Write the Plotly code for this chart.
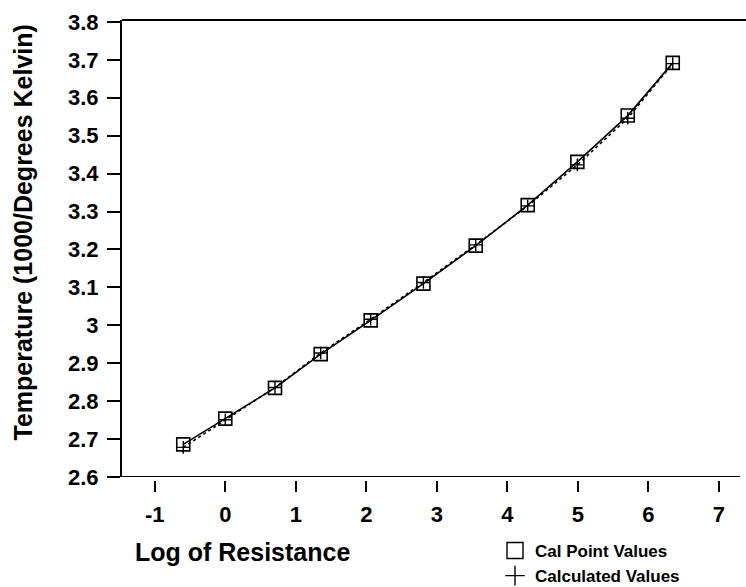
import plotly.graph_objects as go

log_resistance = [-0.596, 0.0, 0.705, 1.353, 2.062, 2.81, 3.552, 4.289, 4.993, 5.708, 6.346]
cal_point_values = [2.686, 2.754, 2.835, 2.924, 3.013, 3.110, 3.210, 3.317, 3.431, 3.553, 3.692]
calculated_values = [2.678, 2.751, 2.836, 2.927, 3.016, 3.113, 3.212, 3.315, 3.423, 3.546, 3.690]

x_ticks = [-1, 0, 1, 2, 3, 4, 5, 6, 7]
y_ticks = [2.6, 2.7, 2.8, 2.9, 3.0, 3.1, 3.2, 3.3, 3.4, 3.5, 3.6, 3.7, 3.8]
y_tick_labels = ["2.6", "2.7", "2.8", "2.9", "3", "3.1", "3.2", "3.3", "3.4", "3.5", "3.6", "3.7", "3.8"]

FONT = "Liberation Sans"
W, H = 746, 587
ml, mt, mr, mb = 122, 20, 6, 107
plot_h = H - mt - mb

fig = go.Figure()
fig.add_trace(go.Scatter(x=log_resistance, y=cal_point_values, mode="lines+markers",
                         line=dict(color="black", width=1.6),
                         marker=dict(symbol="square-open", size=13, color="black", line=dict(width=1.6)),
                         showlegend=False))
fig.add_trace(go.Scatter(x=log_resistance, y=calculated_values, mode="lines+markers",
                         line=dict(color="black", width=1.6, dash="dot"),
                         marker=dict(symbol="cross-thin", size=9, color="black", line=dict(width=1.4, color="black")),
                         showlegend=False))
# legend entries (markers only)
fig.add_trace(go.Scatter(x=[None], y=[None], mode="markers", name="Cal Point Values",
                         marker=dict(symbol="square-open", size=16, color="black", line=dict(width=1.4))))
fig.add_trace(go.Scatter(x=[None], y=[None], mode="markers", name="Calculated Values",
                         marker=dict(symbol="cross-thin", size=14, color="black", line=dict(width=1.4, color="black"))))

dom0 = 3 / plot_h
fig.update_layout(
    width=W, height=H,
    margin=dict(l=ml, r=mr, t=mt, b=mb, autoexpand=False),
    plot_bgcolor="white", paper_bgcolor="white",
    font=dict(family=FONT, color="black", weight="bold"),
    xaxis=dict(range=[-1.465, 7.3], tickvals=x_ticks, ticktext=[str(v) for v in x_ticks],
               showgrid=False, zeroline=False, showline=False,
               ticks="outside", ticklen=11, tickwidth=2, tickcolor="black",
               anchor="free", position=0, ticklabelstandoff=4,
               tickfont=dict(size=22, family=FONT, weight="bold")),
    yaxis=dict(range=[2.6, 3.805], domain=[dom0, 1], tickvals=y_ticks, ticktext=y_tick_labels,
               showgrid=False, zeroline=False, showline=True, linewidth=2, linecolor="black",
               ticks="outside", ticklen=13, tickwidth=2, tickcolor="black",
               ticklabelstandoff=4,
               tickfont=dict(size=22, family=FONT, weight="bold")),
    legend=dict(x=(495 - ml) / (W - ml - mr), y=(H - mb - 533) / plot_h, xanchor="left", yanchor="top",
                font=dict(size=17, family=FONT, weight="bold"), bgcolor="rgba(0,0,0,0)",
                itemwidth=30, tracegroupgap=0),
    shapes=[
        dict(type="line", xref="paper", yref="y", x0=0, x1=1, y0=2.6, y1=2.6,
             line=dict(color="black", width=2)),
        dict(type="line", xref="paper", yref="paper", x0=0, x1=(W - ml) / (W - ml - mr) + 0.01, y0=1, y1=1,
             line=dict(color="black", width=2)),
    ],
    annotations=[
        dict(text="Temperature (1000/Degrees Kelvin)", textangle=-90, xref="paper", yref="paper",
             x=(22 - ml) / (W - ml - mr), y=(H - mb - 232.5) / plot_h, xanchor="center", yanchor="middle",
             showarrow=False, font=dict(size=25, family=FONT, weight="bold")),
        dict(text="Log of Resistance", xref="paper", yref="paper",
             x=(242.5 - ml) / (W - ml - mr), y=(H - mb - 552) / plot_h, xanchor="center", yanchor="middle",
             showarrow=False, font=dict(size=25, family=FONT, weight="bold")),
    ],
)
fig.write_html("out.html", config={"displayModeBar": False},
               post_script="document.body.style.margin='0px';document.body.style.overflow='hidden';")
